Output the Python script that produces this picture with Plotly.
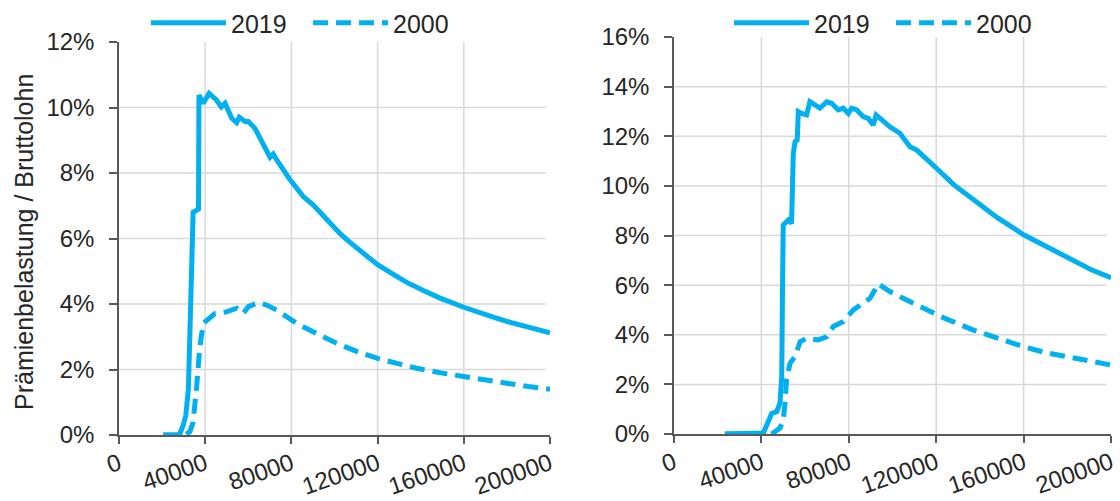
import plotly.graph_objects as go

# Gross wage (CHF) and premium burden in % of gross wage
left_2019_wage = [20600, 28000, 29800, 31000, 32200, 33000, 33800, 34400, 36900, 37100,
                  39100, 41800, 45200, 47500, 49200, 52300, 54600, 55800, 58500, 60000,
                  63100, 68500, 70100, 71600, 73200, 79400, 85500, 90200, 96400, 102600,
                  107200, 113000, 120000, 126000, 133500, 141000, 149000, 160000, 166000,
                  173700, 182000, 190000, 200000]
left_2019_share = [0.0, 0.0, 0.3, 0.6, 1.4, 3.0, 5.5, 6.8, 6.9, 10.38,
                   10.13, 10.43, 10.23, 10.02, 10.13, 9.67, 9.54, 9.70, 9.57, 9.57,
                   9.36, 8.65, 8.48, 8.58, 8.40, 7.79, 7.28, 7.02, 6.56, 6.15,
                   5.88, 5.55, 5.20, 4.96, 4.66, 4.42, 4.18, 3.90, 3.76,
                   3.60, 3.43, 3.29, 3.12]

left_2000_wage = [20600, 30500, 32900, 34300, 35900, 37500, 39100, 41400, 44500, 49900,
                  54600, 57700, 60000, 64700, 68500, 73100, 76200, 82400, 91700, 101000,
                  110000, 120000, 130000, 138100, 150000, 160000, 170000, 179900, 190000,
                  200000]
left_2000_share = [0.0, 0.0, 0.1, 0.37, 1.37, 2.69, 3.41, 3.56, 3.71, 3.76,
                   3.87, 3.71, 3.92, 4.04, 3.97, 3.82, 3.68, 3.41, 3.10, 2.80,
                   2.56, 2.34, 2.17, 2.04, 1.89, 1.78, 1.66, 1.58, 1.48,
                   1.40]

right_2019_wage = [23300, 40000, 40900, 44700, 47000, 48500, 49300, 49700, 50000, 52300,
                   53800, 54600, 55400, 56400, 56900, 58400, 60700, 62200, 64500, 66800,
                   69900, 72100, 75200, 77500, 79800, 81300, 83600, 86600, 88900, 91200,
                   92500, 95000, 98800, 103400, 108000, 111100, 118700, 120000, 128000,
                   137000, 148000, 160000, 171000, 182700, 191000, 200000]
right_2019_share = [0.0, 0.0, 0.04, 0.83, 0.90, 1.24, 2.30, 6.20, 8.42, 8.62,
                    8.49, 11.31, 11.78, 11.85, 12.99, 12.92, 12.86, 13.39, 13.26, 13.13,
                    13.39, 13.33, 13.06, 13.13, 12.92, 13.13, 13.06, 12.79, 12.72, 12.45,
                    12.86, 12.65, 12.38, 12.12, 11.58, 11.44, 10.77, 10.72, 10.05,
                    9.45, 8.72, 8.03, 7.52, 6.95, 6.62, 6.30]

right_2000_wage = [23300, 44700, 48500, 50000, 50800, 51500, 53100, 55400, 57700, 60700,
                   66000, 69900, 72900, 77500, 82100, 86600, 89700, 93500, 98800, 106500,
                   115600, 124000, 137000, 148000, 160000, 170000, 182700, 191000, 200000]
right_2000_share = [0.0, 0.0, 0.24, 0.56, 1.24, 2.18, 2.85, 3.12, 3.72, 3.86,
                    3.79, 3.92, 4.33, 4.53, 5.00, 5.27, 5.47, 6.05, 5.74, 5.40,
                    5.00, 4.66, 4.19, 3.85, 3.52, 3.28, 3.05, 2.90, 2.78]

x_ticks = [0, 40000, 80000, 120000, 160000, 200000]
x_grid = [40000, 80000, 120000, 160000]
left_y_ticks = [0, 2, 4, 6, 8, 10, 12]
left_y_grid = [2, 4, 6, 8, 10]
right_y_ticks = [0, 2, 4, 6, 8, 10, 12, 14, 16]
right_y_grid = [2, 4, 6, 8, 10, 12, 14]

y_title = "Prämienbelastung / Bruttolohn"

W, H = 1120, 501
FONT = "Liberation Sans"
TEXT = "#262626"
AXIS = "#595959"
GRID = "#D9D9D9"
BLUE = "#00B0F0"
DASH = "15px,8px"

fig = go.Figure()

series = [
    (left_2019_wage, left_2019_share, "2019", None, "x", "y", "legend"),
    (left_2000_wage, left_2000_share, "2000", DASH, "x", "y", "legend"),
    (right_2019_wage, right_2019_share, "2019", None, "x2", "y2", "legend2"),
    (right_2000_wage, right_2000_share, "2000", DASH, "x2", "y2", "legend2"),
]
for xs, ys, name, dash, xa, ya, lg in series:
    fig.add_trace(go.Scatter(
        x=xs, y=ys, mode="lines", name=name,
        line=dict(color=BLUE, width=5, dash=dash),
        xaxis=xa, yaxis=ya, legend=lg, hoverinfo="skip",
    ))


def x_axis(domain, anchor):
    return dict(
        domain=domain, anchor=anchor, range=[0, 200000], automargin=False,
        tickmode="array", tickvals=x_ticks, ticktext=[str(v) for v in x_ticks],
        tickangle=-19, ticks="outside", ticklen=7, tickwidth=1.5, tickcolor=AXIS,
        ticklabelstandoff=-3,
        showline=True, linecolor=AXIS, linewidth=1.5,
        showgrid=False, zeroline=False, fixedrange=True,
        tickfont=dict(family=FONT, size=24, color=TEXT),
    )


def y_axis(domain, anchor, top, ticks):
    return dict(
        domain=domain, anchor=anchor, range=[0, top], automargin=False,
        tickmode="array", tickvals=ticks, ticktext=[f"{v}%" for v in ticks],
        ticks="outside", ticklen=8, tickwidth=1.5, tickcolor=AXIS,
        ticklabelstandoff=10,
        showline=True, linecolor=AXIS, linewidth=1.5,
        showgrid=False, zeroline=False, fixedrange=True,
        tickfont=dict(family=FONT, size=24, color=TEXT),
    )


def legend_box(xc):
    return dict(orientation="h", x=xc / W, xanchor="center", y=1 - 23 / H, yanchor="middle",
                font=dict(family=FONT, size=25, color=TEXT), itemwidth=75,
                entrywidth=72, entrywidthmode="pixels",
                bgcolor="rgba(0,0,0,0)", borderwidth=0)


fig.update_layout(
    width=W, height=H, autosize=False,
    margin=dict(l=0, r=0, t=0, b=0, pad=0, autoexpand=False),
    paper_bgcolor="white", plot_bgcolor="white",
    xaxis=x_axis([119 / W, 550 / W], "y"),
    yaxis=y_axis([1 - 435 / H, 1 - 42 / H], "x", 12, left_y_ticks),
    xaxis2=x_axis([674 / W, 1111 / W], "y2"),
    yaxis2=y_axis([1 - 434 / H, 1 - 37 / H], "x2", 16, right_y_ticks),
    legend=legend_box(308),
    legend2=legend_box(891),
    showlegend=True,
)

# light grid lines at the interior tick positions
shapes = []
for xa, ya, ygrid in (("x", "y", left_y_grid), ("x2", "y2", right_y_grid)):
    for v in x_grid:
        shapes.append(dict(type="line", xref=xa, yref=f"{ya} domain", x0=v, x1=v, y0=0, y1=1,
                           line=dict(color=GRID, width=1.5), layer="below"))
    for v in ygrid:
        shapes.append(dict(type="line", xref=f"{xa} domain", yref=ya, x0=0, x1=0.99, y0=v, y1=v,
                           line=dict(color=GRID, width=1.5), layer="below"))
fig.update_layout(shapes=shapes)

fig.add_annotation(
    text=y_title, textangle=-90, showarrow=False,
    xref="paper", yref="paper", x=24 / W, y=1 - 242 / H,
    xanchor="center", yanchor="middle",
    font=dict(family=FONT, size=25, color=TEXT),
)

fig.write_html("out.html", config={"displayModeBar": False})
